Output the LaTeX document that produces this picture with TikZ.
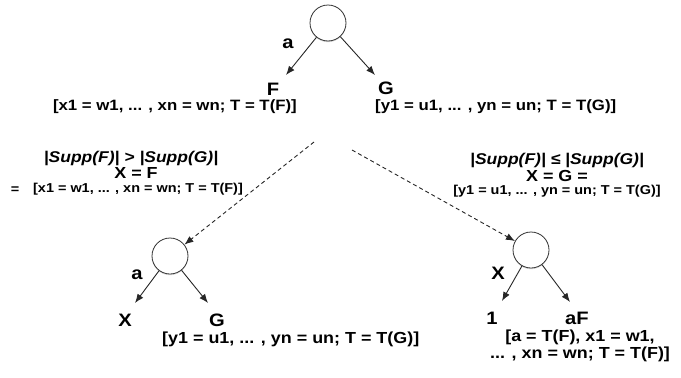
\documentclass[tikz,border=0pt]{standalone}
\usepackage{fontspec}
\setmainfont[FakeStretch=1.12]{Liberation Sans}
\usetikzlibrary{arrows.meta,shadows}
\begin{document}
\begin{tikzpicture}[x=1pt,y=-1pt,
  vtx/.style={circle,draw=black!80,line width=0.8pt,fill=white,minimum size=36pt,inner sep=0pt,
    drop shadow={opacity=0.3,shadow xshift=0pt,shadow yshift=-1.2pt}},
  lbl/.style={font=\fontsize{18}{20}\selectfont\bfseries,inner sep=0pt},
  toptxt/.style={font=\fontsize{15}{17}\selectfont\bfseries,inner sep=0pt},
  bottxt/.style={font=\fontsize{16}{17}\selectfont\bfseries,inner sep=0pt,align=center},
  midtxt/.style={font=\fontsize{12.9}{14}\selectfont\bfseries,inner sep=0pt},
  cond/.style={font=\fontsize{15.6}{17}\selectfont\bfseries\itshape,inner sep=0pt},
  eqtxt/.style={font=\fontsize{16}{18}\selectfont\bfseries,inner sep=0pt},
  arr/.style={draw=black!85,line width=0.9pt,-{Latex[length=9pt,width=7pt]}},
  darr/.style={arr,dash pattern=on 4pt off 3pt}]
\useasboundingbox (0,0) rectangle (681,378);
% top tree
\node[vtx] (t) at (328,23) {};
\coordinate (tl) at (286,75);
\coordinate (tr) at (375,75);
\draw[arr] (t) -- (tl);
\draw[arr] (t) -- (tr);
\node[lbl] (ta) at (288,44) {a};
\node[lbl] (tF) at (273,89) {F};
\node[lbl] (tG) at (386,88) {G};
\node[toptxt,anchor=east] (tFt) at (297,107) {[x1 = w1, ... , xn = wn; T = T(F)]};
\node[toptxt,anchor=west] (tGt) at (375,107) {[y1 = u1, ... , yn = un; T = T(G)]};
% conditions
\node[cond] (c1) at (131,158) {|Supp(F)| > |Supp(G)|};
\node[eqtxt] (c1x) at (136,173) {X = F};
\node[midtxt] (c1eq) at (15,190) {=};
\node[midtxt] (c1t) at (138,189) {[x1 = w1, ... , xn = wn; T = T(F)]};
\node[cond] (c2) at (557,160) {|Supp(F)| ≤ |Supp(G)|};
\node[eqtxt] (c2x) at (557,176) {X = G =};
\node[midtxt] (c2t) at (557,191) {[y1 = u1, ... , yn = un; T = T(G)]};
% bottom left tree
\node[vtx] (bl) at (170,256) {};
\coordinate (bll) at (135,303);
\coordinate (blr) at (208,303);
\draw[arr] (bl) -- (bll);
\draw[arr] (bl) -- (blr);
\node[lbl] (bla) at (137,275) {a};
\node[lbl] (blX) at (125,320) {X};
\node[lbl] (blG) at (217,320) {G};
\node[bottxt,anchor=west] (blt) at (162,339) {[y1 = u1, ... , yn = un; T = T(G)]};
% bottom right tree
\node[vtx] (br) at (531,250) {};
\coordinate (brl) at (502,301);
\coordinate (brr) at (570,302);
\draw[arr] (br) -- (brl);
\draw[arr] (br) -- (brr);
\node[lbl] (brX) at (498,273) {X};
\node[lbl] (br1) at (492,318) {1};
\node[lbl] (braF) at (577,318) {aF};
\node[bottxt] (brt) at (580,346) {[a = T(F), x1 = w1,\\... , xn = wn; T = T(F)]};
% dashed transitions
\coordinate (ds1) at (314,142);
\coordinate (ds2) at (352,150);
\draw[darr] (ds1) -- (bl);
\draw[darr] (ds2) -- (br);
\end{tikzpicture}
\end{document}
